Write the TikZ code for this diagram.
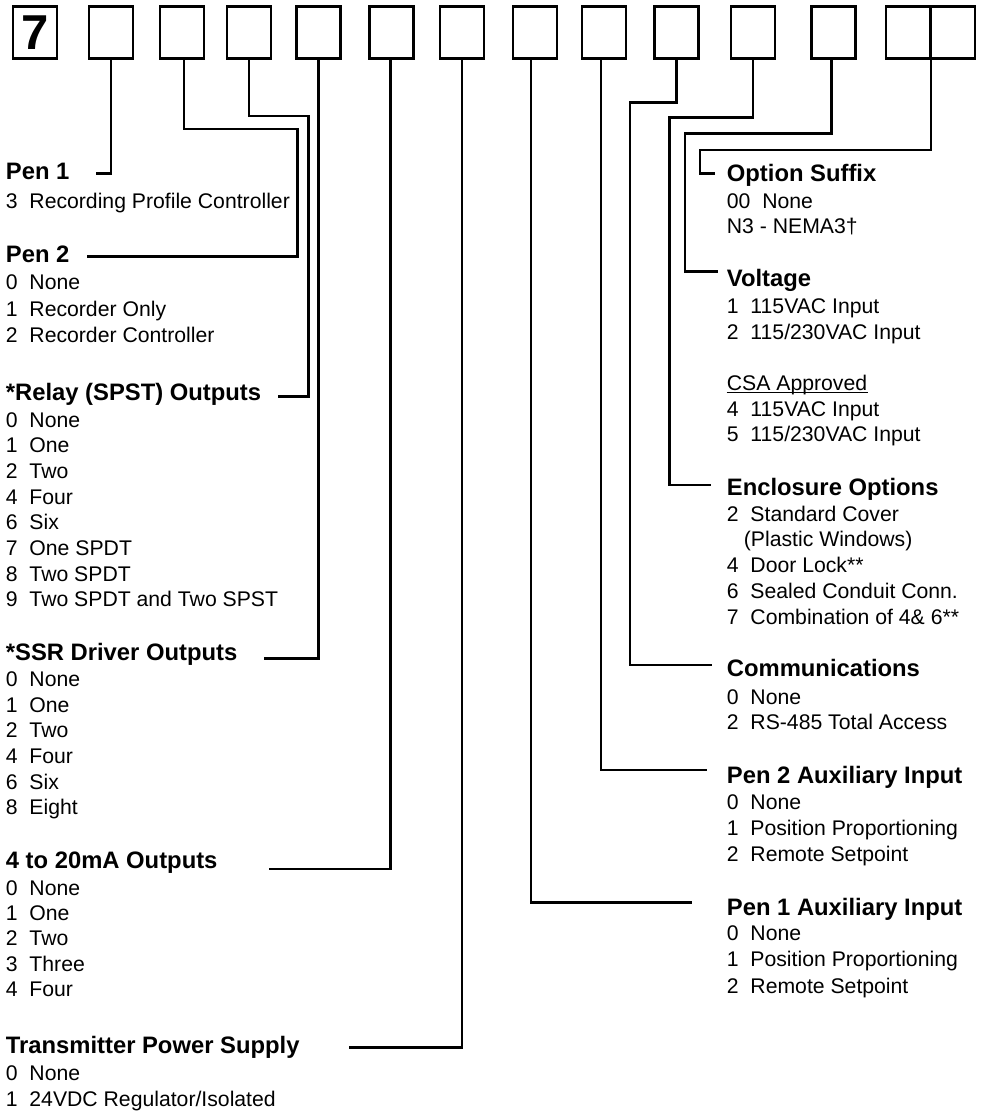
\documentclass[tikz,border=0pt]{standalone}
\usepackage{fontspec}
\setmainfont{Liberation Sans}
\usepackage{tikz}

\begin{document}
\begin{tikzpicture}[x=.5pt,y=-.5pt,
    digit/.style={draw,line width=1.3pt,minimum width=22pt,minimum height=26pt,inner sep=0pt},
    head/.style={anchor=base west,inner sep=0pt,font=\fontsize{11.9}{14}\selectfont\bfseries},
    item/.style={anchor=base west,inner sep=0pt,font=\fontsize{10.6}{12.8}\selectfont},
    link/.style={line width=1.3pt}]
  \useasboundingbox (0,0) rectangle (980,1112);
  % model number boxes
  \node[digit,font=\fontsize{24.5}{28}\selectfont\bfseries] (b0) at (35,32.5) {7};
  \foreach \x [count=\i] in {110.8,182,248.8,318.3,391.5,462,535,603.8,676.5,752.8,833.3,907.8,952.8}
    \node[digit] (b\i) at (\x,32.3) {};

  % left column
  \node[head] (pen1) at (5.5,179.3) {Pen 1};
  \node[item] (pen1a) at (5.5,209) {3\ \ Recording Profile Controller};
  \node[head] (pen2) at (5.5,262.7) {Pen 2};
  \foreach \t [count=\k from 0] in {0\ \ None,1\ \ Recorder Only,2\ \ Recorder Controller}
    \node[item] (pentwo\k) at (5.5,{289.3+26.7*\k}) {\t};
  \node[head] (relay) at (5.5,400.6) {*Relay (SPST) Outputs};
  \foreach \t [count=\k from 0] in {0\ \ None,1\ \ One,2\ \ Two,4\ \ Four,6\ \ Six,7\ \ One SPDT,8\ \ Two SPDT,9\ \ Two SPDT and Two SPST}
    \node[item] (relay\k) at (5.5,{427.3+25.63*\k}) {\t};
  \node[head] (ssr) at (5.5,660) {*SSR Driver Outputs};
  \foreach \t [count=\k from 0] in {0\ \ None,1\ \ One,2\ \ Two,4\ \ Four,6\ \ Six,8\ \ Eight}
    \node[item] (ssr\k) at (5.5,{686.7+25.6*\k}) {\t};
  \node[head] (ma) at (5.5,868.3) {4 to 20mA Outputs};
  \foreach \t [count=\k from 0] in {0\ \ None,1\ \ One,2\ \ Two,3\ \ Three,4\ \ Four}
    \node[item] (ma\k) at (5.5,{895+25.4*\k}) {\t};
  \node[head] (tps) at (5.5,1053.3) {Transmitter Power Supply};
  \foreach \t [count=\k from 0] in {0\ \ None,1\ \ 24VDC Regulator/Isolated}
    \node[item] (tps\k) at (5.5,{1080.7+26*\k}) {\t};

  % right column
  \node[head] (suffix) at (726.5,181.7) {Option Suffix};
  \foreach \t [count=\k from 0] in {00\ \ None,N3 - NEMA3†}
    \node[item] (suffix\k) at (726.5,{208.3+24.8*\k}) {\t};
  \node[head] (volt) at (726.5,286.7) {Voltage};
  \foreach \t [count=\k from 0] in {1\ \ 115VAC Input,2\ \ 115/230VAC Input}
    \node[item] (volt\k) at (726.5,{313.3+26.7*\k}) {\t};
  \node[item] (csa) at (726.5,390.7) {CSA Approved};
  \draw[line width=.55pt] ([yshift=-1pt]csa.base west) -- ([yshift=-1pt]csa.base east);
  \foreach \t [count=\k from 0] in {4\ \ 115VAC Input,5\ \ 115/230VAC Input}
    \node[item] (csa\k) at (726.5,{416.7+25*\k}) {\t};
  \node[head] (encl) at (726.5,495) {Enclosure Options};
  \foreach \t [count=\k from 0] in {2\ \ Standard Cover,\hspace{8.5pt}(Plastic Windows),4\ \ Door Lock**,6\ \ Sealed Conduit Conn.,7\ \ Combination of 4\& 6**}
    \node[item] (encl\k) at (726.5,{521+25.75*\k}) {\t};
  \node[head] (comm) at (726.5,676.7) {Communications};
  \foreach \t [count=\k from 0] in {0\ \ None,2\ \ RS-485 Total Access}
    \node[item] (comm\k) at (726.5,{704+25.3*\k}) {\t};
  \node[head] (auxtwo) at (726.5,783.3) {Pen 2 Auxiliary Input};
  \foreach \t [count=\k from 0] in {0\ \ None,1\ \ Position Proportioning,2\ \ Remote Setpoint}
    \node[item] (auxtwo\k) at (726.5,{809.3+26.2*\k}) {\t};
  \node[head] (auxone) at (726.5,915) {Pen 1 Auxiliary Input};
  \foreach \t [count=\k from 0] in {0\ \ None,1\ \ Position Proportioning,2\ \ Remote Setpoint}
    \node[item] (auxone\k) at (726.5,{940.7+26.2*\k}) {\t};

  % leader lines
  \coordinate (e1) at (96,173.3);
  \coordinate (e2) at (86.7,256.7);
  \coordinate (e3) at (278,396.7);
  \coordinate (e4) at (264,658.3);
  \coordinate (e5) at (269,869);
  \coordinate (e6) at (349,1047.3);
  \coordinate (e7) at (692.3,902.3);
  \coordinate (e8) at (706.7,770);
  \coordinate (e9) at (711.7,665);
  \coordinate (e10) at (710.7,485);
  \coordinate (e11) at (718.3,271.7);
  \coordinate (e12) at (715,173.3);
  \draw[link] (b1.south) |- (e1);
  \draw[link] ([xshift=1pt]b2.south) |- (297.3,129) |- (e2);
  \draw[link] (b3.south) |- (308.3,116) |- (e3);
  \draw[link] (b4.south) |- (e4);
  \draw[link] ([xshift=-.4pt]b5.south) |- (e5);
  \draw[link] (b6.south) |- (e6);
  \draw[link] ([xshift=-2pt]b7.south) |- (e7);
  \draw[link] ([xshift=-1.4pt]b8.south) |- (e8);
  \draw[link] (b9.south) |- (630,102.3) |- (e9);
  \draw[link] (b10.south) |- (669.3,117.7) |- (e10);
  \draw[link] ([xshift=-.8pt]b11.south) |- (685,133.3) |- (e11);
  \draw[link] (b12.south east) |- (700,150) |- (e12);
\end{tikzpicture}
\end{document}
